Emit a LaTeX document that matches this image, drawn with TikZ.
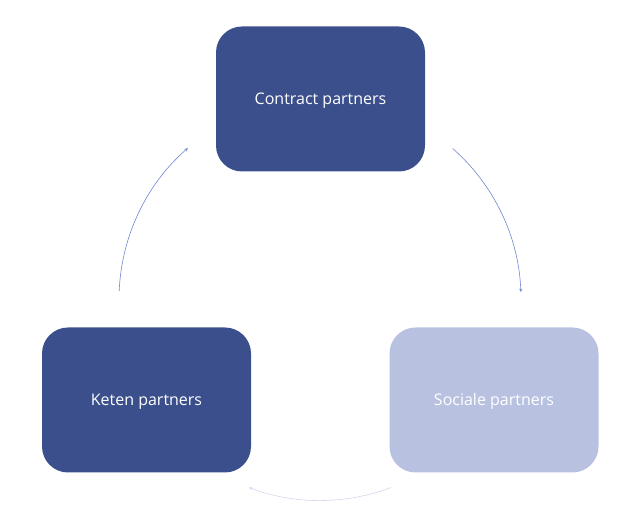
\documentclass[tikz,border=0pt]{standalone}
\usepackage{fontspec}
\setmainfont{Open Sans}
\usetikzlibrary{arrows.meta}
\definecolor{darkbox}{HTML}{3B4F8C}
\definecolor{lightbox}{HTML}{B9C1E1}
\definecolor{arcblue}{HTML}{7088D0}
\definecolor{arclight}{HTML}{D3D7EE}
\tikzset{
  box/.style={rounded corners=26pt, minimum width=209pt, minimum height=145pt, inner sep=0pt, text=white, text height=15pt, text depth=3pt, font=\fontsize{16}{19}\selectfont},
  cyc/.style={line width=0.6pt, -{Stealth[length=3.5pt,width=3pt]}},
}
\begin{document}
\begin{tikzpicture}[x=1pt,y=1pt]
\useasboundingbox (0,0) rectangle (638,506);
\node[box, fill=darkbox] (contract) at (320.5,407) {Contract partners};
\node[box, fill=darkbox] (keten) at (146.5,106) {Keten partners};
\node[box, fill=lightbox] (sociale) at (494,106) {Sociale partners};
\coordinate (c) at (320,206.5);
\path (c) ++(48.7:201) coordinate (a1s);
\path (c) ++(177.6:201) coordinate (a3s);
\path (c) ++(-69.3:201) coordinate (a2s);
\draw[cyc, draw=arcblue] (a1s) arc[start angle=48.7, end angle=2.1, radius=201];
\draw[cyc, draw=arclight] (a2s) arc[start angle=-69.3, end angle=-110.7, radius=201];
\draw[cyc, draw=arcblue] (a3s) arc[start angle=177.6, end angle=131.1, radius=201];
\end{tikzpicture}
\end{document}
